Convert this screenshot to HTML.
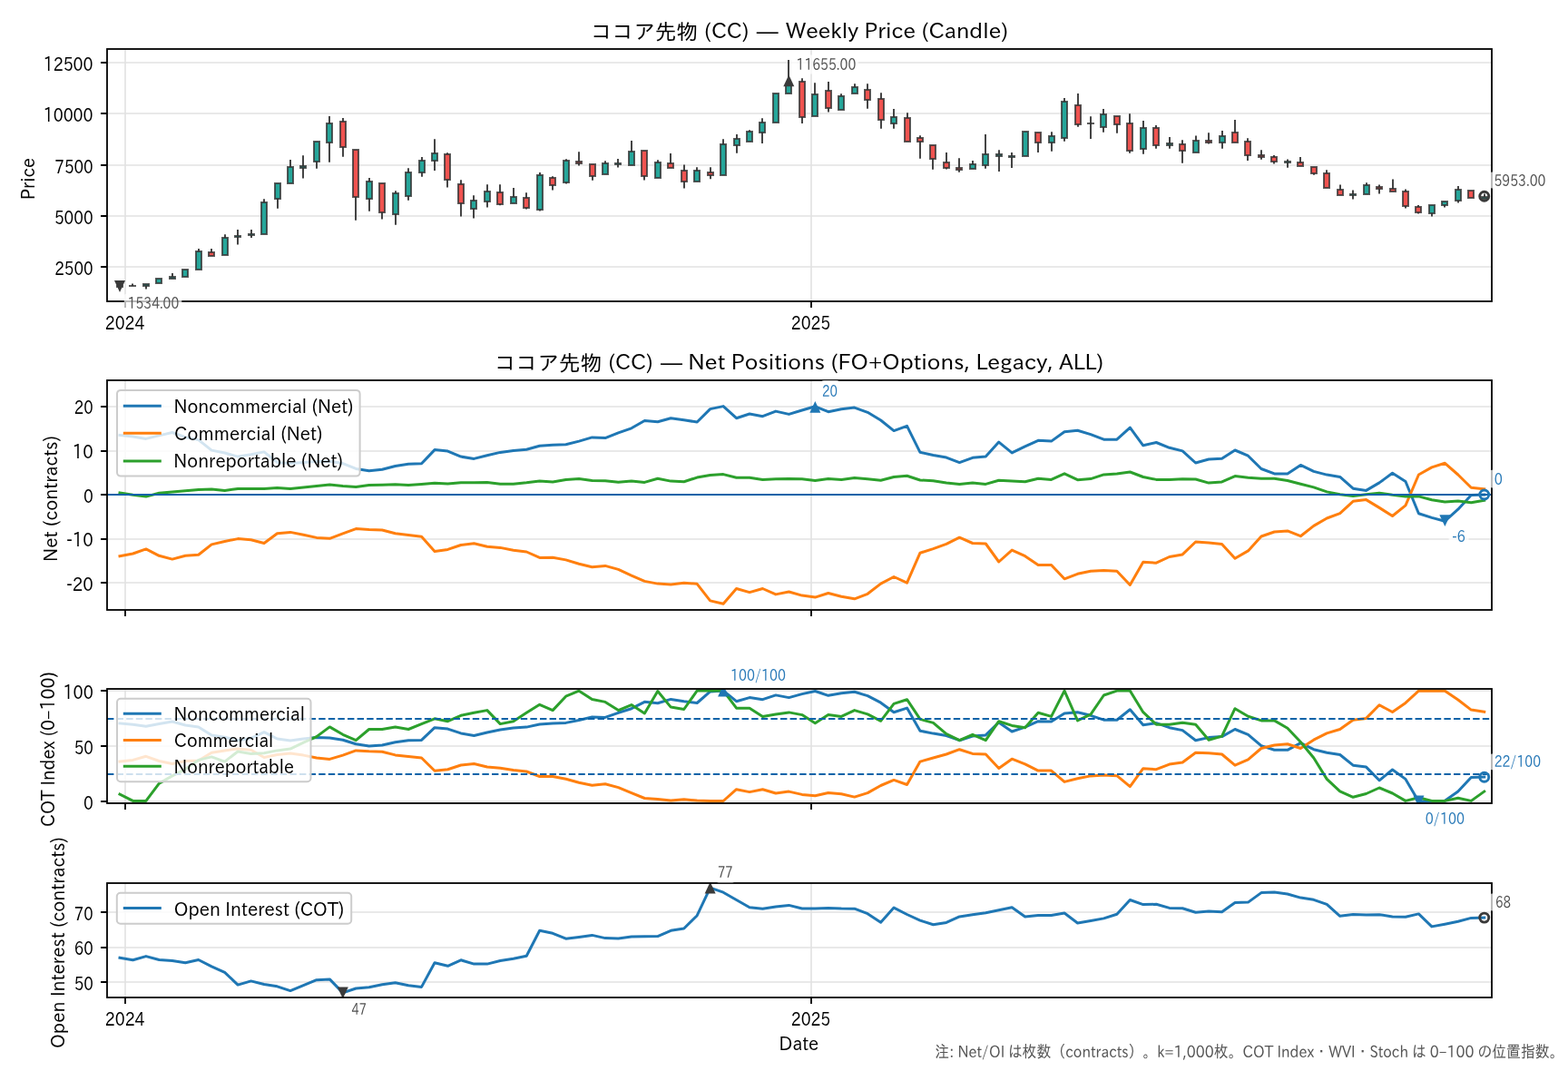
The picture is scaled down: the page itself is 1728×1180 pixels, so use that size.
<!DOCTYPE html>
<html><head><meta charset="utf-8"><title>ココア先物 (CC)</title>
<style>html,body{margin:0;padding:0;background:#fff;}svg{display:block;}</style>
</head><body>
<svg width="1728" height="1180" viewBox="0 0 1728 1180" font-family="IPAPGothic, IPAGothic, 'Noto Sans CJK JP', sans-serif">
<rect width="1728" height="1180" fill="#fff"/>
<defs>
<clipPath id="c1"><rect x="118.0" y="54.0" width="1526" height="278"/></clipPath>
<clipPath id="c2"><rect x="118.0" y="419.0" width="1526" height="253"/></clipPath>
<clipPath id="c3"><rect x="118.0" y="759.0" width="1526" height="126"/></clipPath>
<clipPath id="c4"><rect x="118.0" y="973.0" width="1526" height="126"/></clipPath>
</defs>
<path d="M118.0,69H1644.0M118.0,125H1644.0M118.0,182H1644.0M118.0,238H1644.0M118.0,294H1644.0M138.0,54.0V332.0M894.0,54.0V332.0" stroke="#e2e2e2" stroke-width="1.6" fill="none"/>
<path d="M118.0,448H1644.0M118.0,497H1644.0M118.0,545H1644.0M118.0,594H1644.0M118.0,642H1644.0M138.0,419.0V672.0M894.0,419.0V672.0" stroke="#e2e2e2" stroke-width="1.6" fill="none"/>
<path d="M118.0,761H1644.0M118.0,822H1644.0M118.0,883H1644.0M138.0,759.0V885.0M894.0,759.0V885.0" stroke="#e2e2e2" stroke-width="1.6" fill="none"/>
<path d="M118.0,1005H1644.0M118.0,1044H1644.0M118.0,1082H1644.0M138.0,973.0V1099.0M894.0,973.0V1099.0" stroke="#e2e2e2" stroke-width="1.6" fill="none"/>
<rect x="129" y="315" width="6" height="1" fill="#26a69a" stroke="#333333" stroke-opacity="0.8" stroke-width="2"/>
<line x1="146" y1="312.6" x2="146" y2="315" stroke="#303030" stroke-width="1.8"/>
<rect x="143" y="315" width="6" height="0.01" fill="#26a69a" stroke="#333333" stroke-opacity="0.8" stroke-width="2"/>
<line x1="161" y1="314" x2="161" y2="318.6" stroke="#303030" stroke-width="1.8"/>
<rect x="158" y="313" width="6" height="2" fill="#26a69a" stroke="#333333" stroke-opacity="0.8" stroke-width="2"/>
<rect x="172" y="307" width="6" height="5" fill="#26a69a" stroke="#333333" stroke-opacity="0.8" stroke-width="2"/>
<line x1="190" y1="301" x2="190" y2="306" stroke="#303030" stroke-width="1.8"/>
<rect x="187" y="305" width="6" height="2" fill="#26a69a" stroke="#333333" stroke-opacity="0.8" stroke-width="2"/>
<rect x="201" y="297" width="6" height="8" fill="#26a69a" stroke="#333333" stroke-opacity="0.8" stroke-width="2"/>
<line x1="219" y1="274.1" x2="219" y2="287" stroke="#303030" stroke-width="1.8"/>
<rect x="216" y="277" width="6" height="20" fill="#26a69a" stroke="#333333" stroke-opacity="0.8" stroke-width="2"/>
<line x1="233" y1="274.1" x2="233" y2="280" stroke="#303030" stroke-width="1.8"/>
<rect x="230" y="278" width="6" height="4" fill="#ef5350" stroke="#333333" stroke-opacity="0.8" stroke-width="2"/>
<line x1="248" y1="258.2" x2="248" y2="271.5" stroke="#303030" stroke-width="1.8"/>
<rect x="245" y="262" width="6" height="19" fill="#26a69a" stroke="#333333" stroke-opacity="0.8" stroke-width="2"/>
<line x1="262" y1="253.1" x2="262" y2="269.6" stroke="#303030" stroke-width="1.8"/>
<rect x="259" y="260" width="6" height="1" fill="#26a69a" stroke="#333333" stroke-opacity="0.8" stroke-width="2"/>
<line x1="277" y1="253.1" x2="277" y2="262" stroke="#303030" stroke-width="1.8"/>
<rect x="274" y="258" width="6" height="1" fill="#26a69a" stroke="#333333" stroke-opacity="0.8" stroke-width="2"/>
<line x1="291" y1="219.2" x2="291" y2="240.5" stroke="#303030" stroke-width="1.8"/>
<rect x="288" y="223" width="6" height="35" fill="#26a69a" stroke="#333333" stroke-opacity="0.8" stroke-width="2"/>
<line x1="306" y1="210.5" x2="306" y2="229.8" stroke="#303030" stroke-width="1.8"/>
<rect x="303" y="202" width="6" height="17" fill="#26a69a" stroke="#333333" stroke-opacity="0.8" stroke-width="2"/>
<line x1="320" y1="176" x2="320" y2="193" stroke="#303030" stroke-width="1.8"/>
<rect x="317" y="184" width="6" height="18" fill="#26a69a" stroke="#333333" stroke-opacity="0.8" stroke-width="2"/>
<line x1="334" y1="171.2" x2="334" y2="196.5" stroke="#303030" stroke-width="1.8"/>
<rect x="331" y="183" width="6" height="2" fill="#26a69a" stroke="#333333" stroke-opacity="0.8" stroke-width="2"/>
<line x1="349" y1="167" x2="349" y2="185.8" stroke="#303030" stroke-width="1.8"/>
<rect x="346" y="156" width="6" height="22" fill="#26a69a" stroke="#333333" stroke-opacity="0.8" stroke-width="2"/>
<line x1="363" y1="128.1" x2="363" y2="178.7" stroke="#303030" stroke-width="1.8"/>
<rect x="360" y="136" width="6" height="21" fill="#26a69a" stroke="#333333" stroke-opacity="0.8" stroke-width="2"/>
<line x1="378" y1="130.1" x2="378" y2="172.8" stroke="#303030" stroke-width="1.8"/>
<rect x="375" y="134" width="6" height="28" fill="#ef5350" stroke="#333333" stroke-opacity="0.8" stroke-width="2"/>
<line x1="392" y1="191" x2="392" y2="242.8" stroke="#303030" stroke-width="1.8"/>
<rect x="389" y="165" width="6" height="52" fill="#ef5350" stroke="#333333" stroke-opacity="0.8" stroke-width="2"/>
<line x1="407" y1="195.9" x2="407" y2="232.7" stroke="#303030" stroke-width="1.8"/>
<rect x="404" y="200" width="6" height="19" fill="#26a69a" stroke="#333333" stroke-opacity="0.8" stroke-width="2"/>
<line x1="421" y1="218" x2="421" y2="241.6" stroke="#303030" stroke-width="1.8"/>
<rect x="418" y="202" width="6" height="32" fill="#ef5350" stroke="#333333" stroke-opacity="0.8" stroke-width="2"/>
<line x1="436" y1="210.2" x2="436" y2="247.8" stroke="#303030" stroke-width="1.8"/>
<rect x="433" y="213" width="6" height="23" fill="#26a69a" stroke="#333333" stroke-opacity="0.8" stroke-width="2"/>
<line x1="450" y1="185.2" x2="450" y2="220.8" stroke="#303030" stroke-width="1.8"/>
<rect x="447" y="190" width="6" height="26" fill="#26a69a" stroke="#333333" stroke-opacity="0.8" stroke-width="2"/>
<line x1="465" y1="173.1" x2="465" y2="194.7" stroke="#303030" stroke-width="1.8"/>
<rect x="462" y="177" width="6" height="13" fill="#26a69a" stroke="#333333" stroke-opacity="0.8" stroke-width="2"/>
<line x1="479" y1="153.2" x2="479" y2="188" stroke="#303030" stroke-width="1.8"/>
<rect x="476" y="169" width="6" height="8" fill="#26a69a" stroke="#333333" stroke-opacity="0.8" stroke-width="2"/>
<line x1="493" y1="168.3" x2="493" y2="206.6" stroke="#303030" stroke-width="1.8"/>
<rect x="490" y="170" width="6" height="28" fill="#ef5350" stroke="#333333" stroke-opacity="0.8" stroke-width="2"/>
<line x1="508" y1="198.3" x2="508" y2="238.6" stroke="#303030" stroke-width="1.8"/>
<rect x="505" y="203" width="6" height="21" fill="#ef5350" stroke="#333333" stroke-opacity="0.8" stroke-width="2"/>
<line x1="522" y1="215.2" x2="522" y2="240.5" stroke="#303030" stroke-width="1.8"/>
<rect x="519" y="221" width="6" height="9" fill="#26a69a" stroke="#333333" stroke-opacity="0.8" stroke-width="2"/>
<line x1="537" y1="203.3" x2="537" y2="228.5" stroke="#303030" stroke-width="1.8"/>
<rect x="534" y="211" width="6" height="11" fill="#26a69a" stroke="#333333" stroke-opacity="0.8" stroke-width="2"/>
<line x1="551" y1="203.3" x2="551" y2="226.2" stroke="#303030" stroke-width="1.8"/>
<rect x="548" y="212" width="6" height="13" fill="#ef5350" stroke="#333333" stroke-opacity="0.8" stroke-width="2"/>
<line x1="566" y1="207.1" x2="566" y2="220.5" stroke="#303030" stroke-width="1.8"/>
<rect x="563" y="217" width="6" height="7" fill="#26a69a" stroke="#333333" stroke-opacity="0.8" stroke-width="2"/>
<line x1="580" y1="212.3" x2="580" y2="230.6" stroke="#303030" stroke-width="1.8"/>
<rect x="577" y="218" width="6" height="11" fill="#ef5350" stroke="#333333" stroke-opacity="0.8" stroke-width="2"/>
<line x1="595" y1="190.1" x2="595" y2="232.6" stroke="#303030" stroke-width="1.8"/>
<rect x="592" y="193" width="6" height="38" fill="#26a69a" stroke="#333333" stroke-opacity="0.8" stroke-width="2"/>
<line x1="609" y1="194.2" x2="609" y2="209.4" stroke="#303030" stroke-width="1.8"/>
<rect x="606" y="196" width="6" height="8" fill="#ef5350" stroke="#333333" stroke-opacity="0.8" stroke-width="2"/>
<line x1="624" y1="175.3" x2="624" y2="202.5" stroke="#303030" stroke-width="1.8"/>
<rect x="621" y="177" width="6" height="24" fill="#26a69a" stroke="#333333" stroke-opacity="0.8" stroke-width="2"/>
<line x1="638" y1="167.2" x2="638" y2="182.6" stroke="#303030" stroke-width="1.8"/>
<rect x="635" y="178" width="6" height="2" fill="#ef5350" stroke="#333333" stroke-opacity="0.8" stroke-width="2"/>
<line x1="653" y1="187.5" x2="653" y2="198.7" stroke="#303030" stroke-width="1.8"/>
<rect x="650" y="181" width="6" height="13" fill="#ef5350" stroke="#333333" stroke-opacity="0.8" stroke-width="2"/>
<line x1="667" y1="177.3" x2="667" y2="186" stroke="#303030" stroke-width="1.8"/>
<rect x="664" y="180" width="6" height="12" fill="#26a69a" stroke="#333333" stroke-opacity="0.8" stroke-width="2"/>
<line x1="681" y1="175.1" x2="681" y2="184.6" stroke="#303030" stroke-width="1.8"/>
<rect x="678" y="180" width="6" height="1" fill="#26a69a" stroke="#333333" stroke-opacity="0.8" stroke-width="2"/>
<line x1="696" y1="155" x2="696" y2="174.5" stroke="#303030" stroke-width="1.8"/>
<rect x="693" y="167" width="6" height="15" fill="#26a69a" stroke="#333333" stroke-opacity="0.8" stroke-width="2"/>
<line x1="710" y1="180" x2="710" y2="198.6" stroke="#303030" stroke-width="1.8"/>
<rect x="707" y="166" width="6" height="28" fill="#ef5350" stroke="#333333" stroke-opacity="0.8" stroke-width="2"/>
<line x1="725" y1="176.3" x2="725" y2="187.5" stroke="#303030" stroke-width="1.8"/>
<rect x="722" y="179" width="6" height="17" fill="#26a69a" stroke="#333333" stroke-opacity="0.8" stroke-width="2"/>
<line x1="739" y1="169.1" x2="739" y2="182.5" stroke="#303030" stroke-width="1.8"/>
<rect x="736" y="180" width="6" height="5" fill="#ef5350" stroke="#333333" stroke-opacity="0.8" stroke-width="2"/>
<line x1="754" y1="181.4" x2="754" y2="207.5" stroke="#303030" stroke-width="1.8"/>
<rect x="751" y="188" width="6" height="12" fill="#ef5350" stroke="#333333" stroke-opacity="0.8" stroke-width="2"/>
<line x1="768" y1="184.3" x2="768" y2="194" stroke="#303030" stroke-width="1.8"/>
<rect x="765" y="188" width="6" height="12" fill="#26a69a" stroke="#333333" stroke-opacity="0.8" stroke-width="2"/>
<line x1="783" y1="184.3" x2="783" y2="197.3" stroke="#303030" stroke-width="1.8"/>
<rect x="780" y="190" width="6" height="3" fill="#ef5350" stroke="#333333" stroke-opacity="0.8" stroke-width="2"/>
<line x1="797" y1="153.2" x2="797" y2="176" stroke="#303030" stroke-width="1.8"/>
<rect x="794" y="159" width="6" height="34" fill="#26a69a" stroke="#333333" stroke-opacity="0.8" stroke-width="2"/>
<line x1="812" y1="148.1" x2="812" y2="168.7" stroke="#303030" stroke-width="1.8"/>
<rect x="809" y="153" width="6" height="7" fill="#26a69a" stroke="#333333" stroke-opacity="0.8" stroke-width="2"/>
<line x1="826" y1="143.3" x2="826" y2="150.5" stroke="#303030" stroke-width="1.8"/>
<rect x="823" y="145" width="6" height="11" fill="#26a69a" stroke="#333333" stroke-opacity="0.8" stroke-width="2"/>
<line x1="840" y1="130.3" x2="840" y2="157.9" stroke="#303030" stroke-width="1.8"/>
<rect x="837" y="135" width="6" height="11" fill="#26a69a" stroke="#333333" stroke-opacity="0.8" stroke-width="2"/>
<rect x="852" y="103" width="6" height="32" fill="#26a69a" stroke="#333333" stroke-opacity="0.8" stroke-width="2"/>
<line x1="869" y1="66.1" x2="869" y2="98.5" stroke="#303030" stroke-width="1.8"/>
<rect x="866" y="94" width="6" height="9" fill="#26a69a" stroke="#333333" stroke-opacity="0.8" stroke-width="2"/>
<line x1="884" y1="86.3" x2="884" y2="135.9" stroke="#303030" stroke-width="1.8"/>
<rect x="881" y="90" width="6" height="39" fill="#ef5350" stroke="#333333" stroke-opacity="0.8" stroke-width="2"/>
<line x1="898" y1="91.2" x2="898" y2="116" stroke="#303030" stroke-width="1.8"/>
<rect x="895" y="104" width="6" height="24" fill="#26a69a" stroke="#333333" stroke-opacity="0.8" stroke-width="2"/>
<line x1="913" y1="90.1" x2="913" y2="123.6" stroke="#303030" stroke-width="1.8"/>
<rect x="910" y="100" width="6" height="19" fill="#ef5350" stroke="#333333" stroke-opacity="0.8" stroke-width="2"/>
<line x1="927" y1="103.2" x2="927" y2="113.5" stroke="#303030" stroke-width="1.8"/>
<rect x="924" y="106" width="6" height="15" fill="#26a69a" stroke="#333333" stroke-opacity="0.8" stroke-width="2"/>
<line x1="942" y1="92.2" x2="942" y2="99.5" stroke="#303030" stroke-width="1.8"/>
<rect x="939" y="96" width="6" height="7" fill="#26a69a" stroke="#333333" stroke-opacity="0.8" stroke-width="2"/>
<line x1="956" y1="92.2" x2="956" y2="119.8" stroke="#303030" stroke-width="1.8"/>
<rect x="953" y="99" width="6" height="11" fill="#ef5350" stroke="#333333" stroke-opacity="0.8" stroke-width="2"/>
<line x1="971" y1="102.2" x2="971" y2="141.8" stroke="#303030" stroke-width="1.8"/>
<rect x="968" y="109" width="6" height="23" fill="#ef5350" stroke="#333333" stroke-opacity="0.8" stroke-width="2"/>
<line x1="985" y1="120.1" x2="985" y2="141.8" stroke="#303030" stroke-width="1.8"/>
<rect x="982" y="129" width="6" height="7" fill="#26a69a" stroke="#333333" stroke-opacity="0.8" stroke-width="2"/>
<line x1="1000" y1="124.2" x2="1000" y2="143" stroke="#303030" stroke-width="1.8"/>
<rect x="997" y="130" width="6" height="26" fill="#ef5350" stroke="#333333" stroke-opacity="0.8" stroke-width="2"/>
<line x1="1014" y1="149.3" x2="1014" y2="174.8" stroke="#303030" stroke-width="1.8"/>
<rect x="1011" y="152" width="6" height="4" fill="#ef5350" stroke="#333333" stroke-opacity="0.8" stroke-width="2"/>
<line x1="1028" y1="167.5" x2="1028" y2="186.8" stroke="#303030" stroke-width="1.8"/>
<rect x="1025" y="160" width="6" height="15" fill="#ef5350" stroke="#333333" stroke-opacity="0.8" stroke-width="2"/>
<line x1="1043" y1="168.1" x2="1043" y2="186.5" stroke="#303030" stroke-width="1.8"/>
<rect x="1040" y="179" width="6" height="6" fill="#ef5350" stroke="#333333" stroke-opacity="0.8" stroke-width="2"/>
<line x1="1057" y1="174.2" x2="1057" y2="189.7" stroke="#303030" stroke-width="1.8"/>
<rect x="1054" y="185" width="6" height="2" fill="#ef5350" stroke="#333333" stroke-opacity="0.8" stroke-width="2"/>
<line x1="1072" y1="177" x2="1072" y2="183.5" stroke="#303030" stroke-width="1.8"/>
<rect x="1069" y="181" width="6" height="5" fill="#26a69a" stroke="#333333" stroke-opacity="0.8" stroke-width="2"/>
<line x1="1086" y1="148.1" x2="1086" y2="185.8" stroke="#303030" stroke-width="1.8"/>
<rect x="1083" y="170" width="6" height="12" fill="#26a69a" stroke="#333333" stroke-opacity="0.8" stroke-width="2"/>
<line x1="1101" y1="165.2" x2="1101" y2="189" stroke="#303030" stroke-width="1.8"/>
<rect x="1098" y="170" width="6" height="2" fill="#26a69a" stroke="#333333" stroke-opacity="0.8" stroke-width="2"/>
<line x1="1115" y1="168.1" x2="1115" y2="184.9" stroke="#303030" stroke-width="1.8"/>
<rect x="1112" y="172" width="6" height="1" fill="#26a69a" stroke="#333333" stroke-opacity="0.8" stroke-width="2"/>
<rect x="1127" y="145" width="6" height="27" fill="#26a69a" stroke="#333333" stroke-opacity="0.8" stroke-width="2"/>
<line x1="1144" y1="151.5" x2="1144" y2="167.9" stroke="#303030" stroke-width="1.8"/>
<rect x="1141" y="146" width="6" height="11" fill="#ef5350" stroke="#333333" stroke-opacity="0.8" stroke-width="2"/>
<line x1="1159" y1="145.2" x2="1159" y2="166.7" stroke="#303030" stroke-width="1.8"/>
<rect x="1156" y="150" width="6" height="7" fill="#26a69a" stroke="#333333" stroke-opacity="0.8" stroke-width="2"/>
<line x1="1173" y1="107.9" x2="1173" y2="155.7" stroke="#303030" stroke-width="1.8"/>
<rect x="1170" y="112" width="6" height="40" fill="#26a69a" stroke="#333333" stroke-opacity="0.8" stroke-width="2"/>
<line x1="1188" y1="103.1" x2="1188" y2="139.8" stroke="#303030" stroke-width="1.8"/>
<rect x="1185" y="116" width="6" height="21" fill="#ef5350" stroke="#333333" stroke-opacity="0.8" stroke-width="2"/>
<line x1="1202" y1="128.2" x2="1202" y2="153.1" stroke="#303030" stroke-width="1.8"/>
<rect x="1199" y="136" width="6" height="0.01" fill="#26a69a" stroke="#333333" stroke-opacity="0.8" stroke-width="2"/>
<line x1="1216" y1="120.1" x2="1216" y2="145.8" stroke="#303030" stroke-width="1.8"/>
<rect x="1213" y="126" width="6" height="14" fill="#26a69a" stroke="#333333" stroke-opacity="0.8" stroke-width="2"/>
<line x1="1231" y1="132.5" x2="1231" y2="146.7" stroke="#303030" stroke-width="1.8"/>
<rect x="1228" y="128" width="6" height="9" fill="#ef5350" stroke="#333333" stroke-opacity="0.8" stroke-width="2"/>
<line x1="1245" y1="125.3" x2="1245" y2="168.7" stroke="#303030" stroke-width="1.8"/>
<rect x="1242" y="136" width="6" height="30" fill="#ef5350" stroke="#333333" stroke-opacity="0.8" stroke-width="2"/>
<line x1="1260" y1="133.1" x2="1260" y2="169.7" stroke="#303030" stroke-width="1.8"/>
<rect x="1257" y="141" width="6" height="23" fill="#26a69a" stroke="#333333" stroke-opacity="0.8" stroke-width="2"/>
<line x1="1274" y1="138.1" x2="1274" y2="163.8" stroke="#303030" stroke-width="1.8"/>
<rect x="1271" y="141" width="6" height="19" fill="#ef5350" stroke="#333333" stroke-opacity="0.8" stroke-width="2"/>
<line x1="1289" y1="151.1" x2="1289" y2="163.8" stroke="#303030" stroke-width="1.8"/>
<rect x="1286" y="158" width="6" height="2" fill="#26a69a" stroke="#333333" stroke-opacity="0.8" stroke-width="2"/>
<line x1="1303" y1="154.3" x2="1303" y2="179.7" stroke="#303030" stroke-width="1.8"/>
<rect x="1300" y="159" width="6" height="7" fill="#ef5350" stroke="#333333" stroke-opacity="0.8" stroke-width="2"/>
<line x1="1318" y1="149.4" x2="1318" y2="161.5" stroke="#303030" stroke-width="1.8"/>
<rect x="1315" y="155" width="6" height="13" fill="#26a69a" stroke="#333333" stroke-opacity="0.8" stroke-width="2"/>
<line x1="1332" y1="146.2" x2="1332" y2="158.6" stroke="#303030" stroke-width="1.8"/>
<rect x="1329" y="155" width="6" height="2" fill="#ef5350" stroke="#333333" stroke-opacity="0.8" stroke-width="2"/>
<line x1="1347" y1="144.1" x2="1347" y2="163.8" stroke="#303030" stroke-width="1.8"/>
<rect x="1344" y="150" width="6" height="7" fill="#26a69a" stroke="#333333" stroke-opacity="0.8" stroke-width="2"/>
<line x1="1361" y1="132" x2="1361" y2="151.5" stroke="#303030" stroke-width="1.8"/>
<rect x="1358" y="146" width="6" height="11" fill="#ef5350" stroke="#333333" stroke-opacity="0.8" stroke-width="2"/>
<line x1="1375" y1="152.2" x2="1375" y2="176.9" stroke="#303030" stroke-width="1.8"/>
<rect x="1372" y="156" width="6" height="15" fill="#ef5350" stroke="#333333" stroke-opacity="0.8" stroke-width="2"/>
<line x1="1390" y1="165.2" x2="1390" y2="175.7" stroke="#303030" stroke-width="1.8"/>
<rect x="1387" y="171" width="6" height="2" fill="#ef5350" stroke="#333333" stroke-opacity="0.8" stroke-width="2"/>
<line x1="1404" y1="171.1" x2="1404" y2="180.6" stroke="#303030" stroke-width="1.8"/>
<rect x="1401" y="173" width="6" height="5" fill="#ef5350" stroke="#333333" stroke-opacity="0.8" stroke-width="2"/>
<line x1="1419" y1="175.4" x2="1419" y2="184.7" stroke="#303030" stroke-width="1.8"/>
<rect x="1416" y="178" width="6" height="1" fill="#26a69a" stroke="#333333" stroke-opacity="0.8" stroke-width="2"/>
<line x1="1433" y1="173.1" x2="1433" y2="181" stroke="#303030" stroke-width="1.8"/>
<rect x="1430" y="179" width="6" height="4" fill="#ef5350" stroke="#333333" stroke-opacity="0.8" stroke-width="2"/>
<line x1="1448" y1="187.5" x2="1448" y2="192.8" stroke="#303030" stroke-width="1.8"/>
<rect x="1445" y="184" width="6" height="7" fill="#ef5350" stroke="#333333" stroke-opacity="0.8" stroke-width="2"/>
<line x1="1462" y1="187.2" x2="1462" y2="199" stroke="#303030" stroke-width="1.8"/>
<rect x="1459" y="191" width="6" height="16" fill="#ef5350" stroke="#333333" stroke-opacity="0.8" stroke-width="2"/>
<line x1="1477" y1="203.4" x2="1477" y2="212" stroke="#303030" stroke-width="1.8"/>
<rect x="1474" y="209" width="6" height="6" fill="#ef5350" stroke="#333333" stroke-opacity="0.8" stroke-width="2"/>
<line x1="1491" y1="209.5" x2="1491" y2="219.6" stroke="#303030" stroke-width="1.8"/>
<rect x="1488" y="214" width="6" height="1" fill="#26a69a" stroke="#333333" stroke-opacity="0.8" stroke-width="2"/>
<line x1="1506" y1="201.2" x2="1506" y2="209" stroke="#303030" stroke-width="1.8"/>
<rect x="1503" y="204" width="6" height="10" fill="#26a69a" stroke="#333333" stroke-opacity="0.8" stroke-width="2"/>
<line x1="1520" y1="203.4" x2="1520" y2="213.5" stroke="#303030" stroke-width="1.8"/>
<rect x="1517" y="206" width="6" height="2" fill="#ef5350" stroke="#333333" stroke-opacity="0.8" stroke-width="2"/>
<line x1="1535" y1="197.4" x2="1535" y2="209.5" stroke="#303030" stroke-width="1.8"/>
<rect x="1532" y="208" width="6" height="3" fill="#ef5350" stroke="#333333" stroke-opacity="0.8" stroke-width="2"/>
<line x1="1549" y1="208.4" x2="1549" y2="229.5" stroke="#303030" stroke-width="1.8"/>
<rect x="1546" y="211" width="6" height="16" fill="#ef5350" stroke="#333333" stroke-opacity="0.8" stroke-width="2"/>
<line x1="1563" y1="226" x2="1563" y2="235.6" stroke="#303030" stroke-width="1.8"/>
<rect x="1560" y="228" width="6" height="6" fill="#ef5350" stroke="#333333" stroke-opacity="0.8" stroke-width="2"/>
<line x1="1578" y1="230.5" x2="1578" y2="238.5" stroke="#303030" stroke-width="1.8"/>
<rect x="1575" y="226" width="6" height="9" fill="#26a69a" stroke="#333333" stroke-opacity="0.8" stroke-width="2"/>
<line x1="1592" y1="224" x2="1592" y2="228.6" stroke="#303030" stroke-width="1.8"/>
<rect x="1589" y="222" width="6" height="4" fill="#26a69a" stroke="#333333" stroke-opacity="0.8" stroke-width="2"/>
<line x1="1607" y1="205" x2="1607" y2="223.5" stroke="#303030" stroke-width="1.8"/>
<rect x="1604" y="209" width="6" height="12" fill="#26a69a" stroke="#333333" stroke-opacity="0.8" stroke-width="2"/>
<rect x="1618" y="210" width="6" height="8" fill="#ef5350" stroke="#333333" stroke-opacity="0.8" stroke-width="2"/>
<line x1="1636" y1="213.6" x2="1636" y2="218" stroke="#303030" stroke-width="1.8"/>
<rect x="1633" y="217" width="6" height="2" fill="#26a69a" stroke="#333333" stroke-opacity="0.8" stroke-width="2"/>
<polygon points="869.3,82.4 863.3,95.2 875.3,95.2" fill="#3a3a3a"/>
<polygon points="132,321.9 126,309.1 138,309.1" fill="#3a3a3a"/>
<circle cx="1635.74" cy="216.2" r="5.0" fill="none" stroke="#3a3a3a" stroke-width="2.9"/>
<polyline points="132,479.4 146.46,481.1 160.92,483.4 175.38,479.9 189.84,476.5 204.3,481.7 218.75,484.6 233.21,496.1 247.67,499 262.13,503.1 276.59,500.8 291.05,497.9 305.51,509.4 319.97,510.6 334.43,509.4 348.88,508.5 363.34,508.3 377.8,510.6 392.26,516.4 406.72,518.7 421.18,517.3 435.64,513.5 450.1,511.2 464.56,510.8 479.02,495.6 493.47,497.1 507.93,503.1 522.39,505.4 536.85,501.7 551.31,498.4 565.77,496.4 580.23,495.2 594.69,491.3 609.15,490.3 623.61,489.8 638.07,486.1 652.52,481.9 666.98,482.6 681.44,476.8 695.9,471.8 710.36,463.5 724.82,464.7 739.28,460.7 753.74,462.8 768.2,465 782.65,450.6 797.11,447.6 811.57,460.7 826.03,456 840.49,458.7 854.95,453.1 869.41,456.4 883.87,452 898.33,447.8 912.79,453.7 927.25,450.8 941.7,449.1 956.16,454.3 970.62,463 985.08,474.6 999.54,469.4 1014,498.3 1028.46,501.5 1042.92,504.1 1057.38,509.6 1071.84,504.3 1086.29,503.1 1100.75,487.1 1115.21,498.9 1129.67,491.9 1144.13,485.3 1158.59,486.1 1173.05,475.7 1187.51,474.3 1201.97,478.6 1216.42,484.2 1230.88,484.2 1245.34,471.1 1259.8,490.8 1274.26,487.5 1288.72,493.3 1303.18,496.9 1317.64,510 1332.1,506 1346.56,505.2 1361.01,496 1375.47,502.2 1389.93,516.5 1404.39,521.9 1418.85,521.9 1433.31,512.4 1447.77,519.4 1462.23,523.1 1476.69,525.4 1491.15,538.2 1505.61,540.4 1520.06,531.9 1534.52,521.3 1548.98,530.5 1563.44,565.8 1577.9,570.4 1592.36,574.2 1606.82,561.2 1621.28,545.6 1635.74,545" fill="none" stroke="#1f77b4" stroke-width="3" stroke-linejoin="round" stroke-linecap="square" clip-path="url(#c2)"/>
<polyline points="132,612.7 146.46,610 160.92,604.9 175.38,612.3 189.84,616.1 204.3,612.3 218.75,611.3 233.21,599.9 247.67,596.5 262.13,593.6 276.59,594.7 291.05,598.5 305.51,587.8 319.97,586.4 334.43,589.2 348.88,592.4 363.34,593.3 377.8,587.8 392.26,582.6 406.72,583.5 421.18,584 435.64,587.8 450.1,589.5 464.56,591.3 479.02,607.5 493.47,605.4 507.93,600.5 522.39,598.8 536.85,602.2 551.31,603.4 565.77,606.3 580.23,608 594.69,614.4 609.15,614.2 623.61,616.9 638.07,621.3 652.52,624.8 666.98,623.4 681.44,627.4 695.9,634.1 710.36,640.4 724.82,643.1 739.28,644.1 753.74,642.2 768.2,643.3 782.65,661.9 797.11,665.3 811.57,648.5 826.03,652.6 840.49,648.5 854.95,654.9 869.41,652 883.87,656.1 898.33,658.1 912.79,653.5 927.25,657.2 941.7,659.8 956.16,654.3 970.62,643.1 985.08,635.5 999.54,642.2 1014,609.2 1028.46,604.6 1042.92,599.4 1057.38,592.2 1071.84,598.5 1086.29,599 1100.75,619 1115.21,606.1 1129.67,612.7 1144.13,622.5 1158.59,622.5 1173.05,637.8 1187.51,632.3 1201.97,629.2 1216.42,628.5 1230.88,629.2 1245.34,644.5 1259.8,619.3 1274.26,620.2 1288.72,613.5 1303.18,610.9 1317.64,597 1332.1,598 1346.56,599.4 1361.01,615.3 1375.47,606.9 1389.93,591 1404.39,586 1418.85,584.9 1433.31,590.7 1447.77,579.4 1462.23,571 1476.69,565.6 1491.15,552.3 1505.61,550.6 1520.06,559.4 1534.52,568.5 1548.98,556.9 1563.44,523 1577.9,514.9 1592.36,510.3 1606.82,523 1621.28,537.2 1635.74,538.8" fill="none" stroke="#ff7f0e" stroke-width="3" stroke-linejoin="round" stroke-linecap="square" clip-path="url(#c2)"/>
<polyline points="132,543 146.46,545.3 160.92,547.1 175.38,543.2 189.84,541.9 204.3,540.7 218.75,539.5 233.21,539 247.67,540.5 262.13,538.4 276.59,538.6 291.05,538.4 305.51,537.6 319.97,538.4 334.43,537 348.88,535.5 363.34,534 377.8,535.5 392.26,536.6 406.72,534.6 421.18,534.3 435.64,533.8 450.1,534.6 464.56,533.5 479.02,532.2 493.47,532.9 507.93,531.7 522.39,531.8 536.85,531.4 551.31,533.2 565.77,533.2 580.23,531.8 594.69,530 609.15,531.1 623.61,528.5 638.07,527.6 652.52,529.4 666.98,529.7 681.44,531.2 695.9,530 710.36,531.4 724.82,527.2 739.28,530.1 753.74,530.7 768.2,526.1 782.65,523.5 797.11,522.6 811.57,526.3 826.03,526.3 840.49,528.4 854.95,527.8 869.41,527.5 883.87,527.8 898.33,529.5 912.79,527.6 927.25,528.4 941.7,526.6 956.16,527.8 970.62,529.2 985.08,525.5 999.54,524.3 1014,529 1028.46,529.8 1042.92,532.1 1057.38,533.4 1071.84,532.1 1086.29,533.4 1100.75,529.3 1115.21,530.1 1129.67,530.7 1144.13,527.2 1158.59,528.4 1173.05,521.8 1187.51,528.7 1201.97,527.6 1216.42,522.9 1230.88,522 1245.34,520 1259.8,525.5 1274.26,528.4 1288.72,528.4 1303.18,527.8 1317.64,528 1332.1,532.1 1346.56,530.9 1361.01,524.6 1375.47,526.3 1389.93,527.2 1404.39,527.2 1418.85,529.5 1433.31,533.2 1447.77,536.9 1462.23,541.9 1476.69,544.8 1491.15,546.6 1505.61,544.8 1520.06,543.2 1534.52,545.3 1548.98,546.9 1563.44,546.9 1577.9,550.8 1592.36,553.1 1606.82,551.9 1621.28,553.7 1635.74,551.3" fill="none" stroke="#2ca02c" stroke-width="3" stroke-linejoin="round" stroke-linecap="square" clip-path="url(#c2)"/>
<line x1="118" y1="545" x2="1644" y2="545" stroke="#0b63a8" stroke-width="1.8"/>
<polygon points="898.33,441.9 892.33,454.7 904.33,454.7" fill="#1f77b4"/>
<polygon points="1592.36,580 1586.36,567.2 1598.36,567.2" fill="#1f77b4"/>
<circle cx="1635.74" cy="545" r="5.0" fill="none" stroke="#1f77b4" stroke-width="2.9"/>
<polyline points="132,797 146.46,798.2 160.92,800.2 175.38,797.6 189.84,795 204.3,799 218.75,800.9 233.21,809.9 247.67,812.2 262.13,815.7 276.59,813.4 291.05,806.7 305.51,814 319.97,816.1 334.43,814 348.88,812.6 363.34,813.1 377.8,815.2 392.26,819.8 406.72,821.9 421.18,821 435.64,817.8 450.1,815.7 464.56,815.4 479.02,801.7 493.47,803.1 507.93,807.9 522.39,810.5 536.85,807 551.31,804 565.77,802.1 580.23,801.1 594.69,798 609.15,797 623.61,796.4 638.07,793.5 652.52,790 666.98,790.4 681.44,785.3 695.9,780.7 710.36,773.3 724.82,774.7 739.28,770.4 753.74,772.7 768.2,774.5 782.65,761.9 797.11,761 811.57,772.7 826.03,768.6 840.49,770.7 854.95,765.9 869.41,768.6 883.87,764.6 898.33,761.5 912.79,766.3 927.25,763.7 941.7,762.3 956.16,766.6 970.62,774.2 985.08,784.7 999.54,780.1 1014,805.2 1028.46,808.1 1042.92,810.5 1057.38,815.7 1071.84,811.1 1086.29,809.9 1100.75,795.9 1115.21,806 1129.67,801.1 1144.13,794.7 1158.59,795 1173.05,785.9 1187.51,784.7 1201.97,788.3 1216.42,793.2 1230.88,793.2 1245.34,781.8 1259.8,798.8 1274.26,796.7 1288.72,801.7 1303.18,804.6 1317.64,815.7 1332.1,812.6 1346.56,811.6 1361.01,803.5 1375.47,809.3 1389.93,821.6 1404.39,826.3 1418.85,826.3 1433.31,818.7 1447.77,825.7 1462.23,829.2 1476.69,831.5 1491.15,843.2 1505.61,845.1 1520.06,859.8 1534.52,848 1548.98,858.4 1563.44,882.9 1577.9,882.4 1592.36,882.2 1606.82,872 1621.28,856.4 1635.74,856.1" fill="none" stroke="#1f77b4" stroke-width="3" stroke-linejoin="round" stroke-linecap="square" clip-path="url(#c3)"/>
<polyline points="132,839.1 146.46,837.4 160.92,833.3 175.38,838.5 189.84,841.5 204.3,838.5 218.75,838 233.21,829.2 247.67,826.9 262.13,825.1 276.59,826.3 291.05,834.5 305.51,831.5 319.97,830.1 334.43,832.1 348.88,835 363.34,836.4 377.8,832.1 392.26,826.9 406.72,827.8 421.18,828.3 435.64,831.9 450.1,833.5 464.56,835 479.02,849.3 493.47,847.7 507.93,843 522.39,841.5 536.85,845 551.31,846.2 565.77,848.5 580.23,850 594.69,855.5 609.15,855.5 623.61,858.2 638.07,862.2 652.52,865.2 666.98,863.7 681.44,867.6 695.9,873.6 710.36,879.5 724.82,880.5 739.28,882.1 753.74,880.8 768.2,882.1 782.65,882.5 797.11,882.5 811.57,869.7 826.03,872.6 840.49,869.7 854.95,874 869.41,872.1 883.87,875.4 898.33,876.7 912.79,873.5 927.25,874.8 941.7,878.1 956.16,873.6 970.62,865.5 985.08,859.4 999.54,864.5 1014,839.1 1028.46,835 1042.92,831 1057.38,825.7 1071.84,830.4 1086.29,831 1100.75,846.5 1115.21,836.2 1129.67,841.8 1144.13,849.1 1158.59,849.1 1173.05,861.4 1187.51,857.8 1201.97,854.9 1216.42,854.1 1230.88,854.7 1245.34,866.6 1259.8,846.7 1274.26,847.7 1288.72,842.1 1303.18,840 1317.64,829.2 1332.1,829.8 1346.56,831 1361.01,843.2 1375.47,836.8 1389.93,824.5 1404.39,821 1418.85,819.8 1433.31,824.5 1447.77,815.2 1462.23,807.9 1476.69,803.5 1491.15,793.2 1505.61,791.4 1520.06,776.8 1534.52,784.5 1548.98,774.4 1563.44,761.2 1577.9,761.2 1592.36,761.2 1606.82,771 1621.28,782.1 1635.74,784.3" fill="none" stroke="#ff7f0e" stroke-width="3" stroke-linejoin="round" stroke-linecap="square" clip-path="url(#c3)"/>
<polyline points="132,875 146.46,882.4 160.92,882.4 175.38,863.1 189.84,854.9 204.3,847.3 218.75,837.4 233.21,833.9 247.67,839.1 262.13,828 276.59,830.4 291.05,829.8 305.51,826.9 319.97,825.1 334.43,818.1 348.88,811.6 363.34,800.9 377.8,809.3 392.26,815.7 406.72,803.5 421.18,803.5 435.64,800.9 450.1,803.5 464.56,797.6 479.02,791.8 493.47,794.7 507.93,788.3 522.39,785.3 536.85,782.6 551.31,797.6 565.77,794.7 580.23,785.3 594.69,776.3 609.15,782.6 623.61,767.2 638.07,761.2 652.52,770.5 666.98,773.4 681.44,782.6 695.9,776.6 710.36,785.9 724.82,761.5 739.28,779.1 753.74,781.5 768.2,761 782.65,761 797.11,761 811.57,780.2 826.03,780.2 840.49,789.4 854.95,787 869.41,784.9 883.87,787.6 898.33,796.7 912.79,787.6 927.25,789.4 941.7,782.6 956.16,786.9 970.62,794.3 985.08,775.4 999.54,770.7 1014,792.4 1028.46,796.4 1042.92,808.7 1057.38,815.7 1071.84,809.3 1086.29,815.7 1100.75,794.7 1115.21,799.4 1129.67,801.7 1144.13,785.3 1158.59,789.4 1173.05,761.1 1187.51,793.9 1201.97,787.1 1216.42,766 1230.88,761.1 1245.34,761.1 1259.8,784.7 1274.26,798.2 1288.72,798.2 1303.18,796.2 1317.64,798.2 1332.1,815.2 1346.56,811.1 1361.01,780.7 1375.47,789.2 1389.93,793.9 1404.39,793.9 1418.85,802.3 1433.31,817.5 1447.77,835 1462.23,858.4 1476.69,871.9 1491.15,878.3 1505.61,874.5 1520.06,868 1534.52,874 1548.98,882.4 1563.44,878.8 1577.9,882.4 1592.36,882.4 1606.82,879.2 1621.28,882.4 1635.74,872" fill="none" stroke="#2ca02c" stroke-width="3" stroke-linejoin="round" stroke-linecap="square" clip-path="url(#c3)"/>
<line x1="118" y1="792" x2="1644" y2="792" stroke="#0b63a8" stroke-width="1.8" stroke-dasharray="7.4 3.2" clip-path="url(#c3)"/>
<line x1="118" y1="853" x2="1644" y2="853" stroke="#0b63a8" stroke-width="1.8" stroke-dasharray="7.4 3.2" clip-path="url(#c3)"/>
<polygon points="797.11,754.6 791.11,767.4 803.11,767.4" fill="#1f77b4" clip-path="url(#c3)"/>
<polygon points="1563.44,889.3 1557.44,876.5 1569.44,876.5" fill="#1f77b4" clip-path="url(#c3)"/>
<circle cx="1635.74" cy="856.2" r="5.0" fill="none" stroke="#1f77b4" stroke-width="2.9"/>
<polyline points="132,1055.2 146.46,1057.8 160.92,1053.6 175.38,1057.5 189.84,1058.4 204.3,1060.7 218.75,1057.5 233.21,1064.9 247.67,1071.4 262.13,1085.1 276.59,1080.9 291.05,1084.5 305.51,1086.8 319.97,1091.6 334.43,1085.7 348.88,1079.7 363.34,1078.9 377.8,1093.9 392.26,1089 406.72,1087.8 421.18,1084.8 435.64,1082.7 450.1,1085.7 464.56,1087.4 479.02,1060.7 493.47,1064.3 507.93,1057.8 522.39,1062.1 536.85,1062.1 551.31,1058.5 565.77,1056.2 580.23,1053.2 594.69,1025.3 609.15,1028.3 623.61,1034.2 638.07,1032.4 652.52,1030.4 666.98,1033.6 681.44,1034 695.9,1032.1 710.36,1031.8 724.82,1031.6 739.28,1025.3 753.74,1023 768.2,1008.7 782.65,978.1 797.11,983.2 811.57,991.5 826.03,999.8 840.49,1001.2 854.95,998.9 869.41,997.4 883.87,1001 898.33,1001 912.79,1000.4 927.25,1001 941.7,1001.2 956.16,1006.7 970.62,1016.2 985.08,1000.1 999.54,1007.5 1014,1014.1 1028.46,1018.8 1042.92,1016.4 1057.38,1009.9 1071.84,1007.8 1086.29,1005.8 1100.75,1002.8 1115.21,999.8 1129.67,1009.9 1144.13,1008.4 1158.59,1008.4 1173.05,1006 1187.51,1017 1201.97,1014.6 1216.42,1011.9 1230.88,1007.3 1245.34,991.5 1259.8,996.6 1274.26,996.3 1288.72,1000.4 1303.18,1000.8 1317.64,1005.2 1332.1,1004 1346.56,1004.8 1361.01,994.5 1375.47,994.1 1389.93,983.6 1404.39,983 1418.85,985 1433.31,989.1 1447.77,991.3 1462.23,996.3 1476.69,1009.3 1491.15,1007.5 1505.61,1007.9 1520.06,1007.7 1534.52,1009.9 1548.98,1010.3 1563.44,1006.9 1577.9,1020.9 1592.36,1018.2 1606.82,1015.2 1621.28,1011.4 1635.74,1011.1" fill="none" stroke="#1f77b4" stroke-width="3" stroke-linejoin="round" stroke-linecap="square" clip-path="url(#c4)"/>
<polygon points="782.65,971.7 776.65,984.5 788.65,984.5" fill="#3a3a3a" clip-path="url(#c4)"/>
<polygon points="377.8,1100.3 371.8,1087.5 383.8,1087.5" fill="#3a3a3a" clip-path="url(#c4)"/>
<circle cx="1635.74" cy="1011.1" r="5.0" fill="none" stroke="#3a3a3a" stroke-width="2.9"/>
<rect x="118.0" y="54.0" width="1526" height="278" fill="none" stroke="#000" stroke-width="1.8"/>
<path d="M111.0,69H118.0M111.0,125H118.0M111.0,182H118.0M111.0,238H118.0M111.0,294H118.0M138.0,332V339M894.0,332V339" stroke="#000" stroke-width="1.8" fill="none"/>
<rect x="118.0" y="419.0" width="1526" height="253" fill="none" stroke="#000" stroke-width="1.8"/>
<path d="M111.0,448H118.0M111.0,497H118.0M111.0,545H118.0M111.0,594H118.0M111.0,642H118.0M138.0,672V679M894.0,672V679" stroke="#000" stroke-width="1.8" fill="none"/>
<rect x="118.0" y="759.0" width="1526" height="126" fill="none" stroke="#000" stroke-width="1.8"/>
<path d="M111.0,761H118.0M111.0,822H118.0M111.0,883H118.0M138.0,885V892M894.0,885V892" stroke="#000" stroke-width="1.8" fill="none"/>
<rect x="118.0" y="973.0" width="1526" height="126" fill="none" stroke="#000" stroke-width="1.8"/>
<path d="M111.0,1005H118.0M111.0,1044H118.0M111.0,1082H118.0M138.0,1099V1106M894.0,1099V1106" stroke="#000" stroke-width="1.8" fill="none"/>
<rect x="129" y="429.9" width="267.6" height="94.7" rx="4" fill="#fff" fill-opacity="0.8" stroke="#cccccc" stroke-width="2"/>
<line x1="137.3" y1="447.3" x2="176.3" y2="447.3" stroke="#1f77b4" stroke-width="3" stroke-linecap="square"/>
<text x="191.38" y="454.8" font-size="20.8" fill="#000" textLength="198.27" lengthAdjust="spacingAndGlyphs">Noncommercial (Net)</text>
<line x1="137.3" y1="477.3" x2="176.3" y2="477.3" stroke="#ff7f0e" stroke-width="3" stroke-linecap="square"/>
<text x="192.1" y="485" font-size="20.8" fill="#000" textLength="163.45" lengthAdjust="spacingAndGlyphs">Commercial (Net)</text>
<line x1="137.3" y1="508" x2="176.3" y2="508" stroke="#2ca02c" stroke-width="3" stroke-linecap="square"/>
<text x="191.35" y="515.2" font-size="20.8" fill="#000" textLength="186.6" lengthAdjust="spacingAndGlyphs">Nonreportable (Net)</text>
<rect x="129" y="769.7" width="213.5" height="91.5" rx="4" fill="#fff" fill-opacity="0.8" stroke="#cccccc" stroke-width="2"/>
<line x1="137.3" y1="786.3" x2="176.3" y2="786.3" stroke="#1f77b4" stroke-width="3" stroke-linecap="square"/>
<text x="191.57" y="794" font-size="20.8" fill="#000" textLength="144.44" lengthAdjust="spacingAndGlyphs">Noncommercial</text>
<line x1="137.3" y1="815.4" x2="176.3" y2="815.4" stroke="#ff7f0e" stroke-width="3" stroke-linecap="square"/>
<text x="191.87" y="822.9" font-size="20.8" fill="#000" textLength="109.46" lengthAdjust="spacingAndGlyphs">Commercial</text>
<line x1="137.3" y1="844.3" x2="176.3" y2="844.3" stroke="#2ca02c" stroke-width="3" stroke-linecap="square"/>
<text x="191.6" y="851.8" font-size="20.8" fill="#000" textLength="132.48" lengthAdjust="spacingAndGlyphs">Nonreportable</text>
<rect x="128.8" y="983.8" width="258.4" height="34" rx="4" fill="#fff" fill-opacity="0.8" stroke="#cccccc" stroke-width="2"/>
<line x1="137.3" y1="1000.6" x2="176.3" y2="1000.6" stroke="#1f77b4" stroke-width="3" stroke-linecap="square"/>
<text x="191.68" y="1009.2" font-size="20.8" fill="#000" textLength="187.68" lengthAdjust="spacingAndGlyphs">Open Interest (COT)</text>
<rect x="870.5" y="60.5" width="75.5" height="21" rx="3" fill="#fff" fill-opacity="0.7"/>
<text x="877.57" y="77.2" font-size="17.7" fill="#505050" textLength="65.69" lengthAdjust="spacingAndGlyphs">11655.00</text>
<rect x="136.8" y="323.5" width="63.5" height="20" rx="3" fill="#fff" fill-opacity="0.7"/>
<text x="140.76" y="340" font-size="17.7" fill="#505050" textLength="56.47" lengthAdjust="spacingAndGlyphs">1534.00</text>
<rect x="1641.5" y="189.4" width="65" height="18.1" rx="3" fill="#fff" fill-opacity="0.7"/>
<text x="1646.44" y="205" font-size="17.7" fill="#505050" textLength="57.07" lengthAdjust="spacingAndGlyphs">5953.00</text>
<rect x="905" y="418.9" width="20" height="21.6" rx="3" fill="#fff" fill-opacity="0.7"/>
<text x="905.94" y="437.1" font-size="17.7" fill="#2a7ab8" textLength="16.94" lengthAdjust="spacingAndGlyphs">20</text>
<rect x="1596.6" y="580.5" width="22" height="19.5" rx="3" fill="#fff" fill-opacity="0.7"/>
<text x="1600.24" y="596.5" font-size="17.7" fill="#2a7ab8" textLength="14.81" lengthAdjust="spacingAndGlyphs">-6</text>
<rect x="1641.5" y="517.8" width="17.5" height="19.7" rx="3" fill="#fff" fill-opacity="0.7"/>
<text x="1646.8" y="533.8" font-size="17.7" fill="#2a7ab8" textLength="9.12" lengthAdjust="spacingAndGlyphs">0</text>
<rect x="802.5" y="733.5" width="66.5" height="20" rx="3" fill="#fff" fill-opacity="0.7"/>
<text x="805.03" y="750" font-size="17.7" fill="#2a7ab8" textLength="60.85" lengthAdjust="spacingAndGlyphs">100/100</text>
<rect x="1567.5" y="892" width="49.5" height="20" rx="3" fill="#fff" fill-opacity="0.7"/>
<text x="1570.77" y="908.4" font-size="17.7" fill="#2a7ab8" textLength="43.22" lengthAdjust="spacingAndGlyphs">0/100</text>
<rect x="1641.5" y="830.6" width="59.5" height="17.7" rx="3" fill="#fff" fill-opacity="0.7"/>
<text x="1646.77" y="845.4" font-size="17.7" fill="#2a7ab8" textLength="51.23" lengthAdjust="spacingAndGlyphs">22/100</text>
<rect x="789" y="951" width="21" height="21.5" rx="3" fill="#fff" fill-opacity="0.7"/>
<text x="791" y="966.6" font-size="17.7" fill="#505050" textLength="16.65" lengthAdjust="spacingAndGlyphs">77</text>
<rect x="384" y="1101.5" width="22.5" height="19.5" rx="3" fill="#fff" fill-opacity="0.7"/>
<text x="387.57" y="1117.6" font-size="17.7" fill="#505050" textLength="16.24" lengthAdjust="spacingAndGlyphs">47</text>
<rect x="1641.5" y="984.4" width="26.5" height="19" rx="3" fill="#fff" fill-opacity="0.7"/>
<text x="1647.94" y="999.8" font-size="17.7" fill="#505050" textLength="17.15" lengthAdjust="spacingAndGlyphs">68</text>
<text x="651.25" y="43.1" font-family="IPAGothic, sans-serif" font-size="23.0" fill="#000" textLength="117.88" lengthAdjust="spacingAndGlyphs">ココア先物</text>
<text x="776.11" y="41.9" font-size="23.6" fill="#000" textLength="49.43" lengthAdjust="spacingAndGlyphs">(CC)</text>
<text x="833.7" y="41.9" font-family="Liberation Sans, sans-serif" font-size="23.6" fill="#000" textLength="23.92" lengthAdjust="spacingAndGlyphs">—</text>
<text x="866.03" y="41.9" font-size="23.6" fill="#000" textLength="245.23" lengthAdjust="spacingAndGlyphs">Weekly Price (Candle)</text>
<text x="545.15" y="408" font-family="IPAGothic, sans-serif" font-size="23.0" fill="#000" textLength="118.3" lengthAdjust="spacingAndGlyphs">ココア先物</text>
<text x="670.3" y="406.8" font-size="23.6" fill="#000" textLength="49.64" lengthAdjust="spacingAndGlyphs">(CC)</text>
<text x="728" y="406.8" font-family="Liberation Sans, sans-serif" font-size="23.6" fill="#000" textLength="24.02" lengthAdjust="spacingAndGlyphs">—</text>
<text x="758.37" y="406.8" font-size="23.6" fill="#000" textLength="457.98" lengthAdjust="spacingAndGlyphs">Net Positions (FO+Options, Legacy, ALL)</text>
<text x="47.69" y="77.9" font-size="20.5" fill="#000" textLength="54.9" lengthAdjust="spacingAndGlyphs">12500</text>
<text x="47.69" y="134.2" font-size="20.5" fill="#000" textLength="54.9" lengthAdjust="spacingAndGlyphs">10000</text>
<text x="60.33" y="190.5" font-size="20.5" fill="#000" textLength="42.25" lengthAdjust="spacingAndGlyphs">7500</text>
<text x="59.98" y="246.8" font-size="20.5" fill="#000" textLength="42.62" lengthAdjust="spacingAndGlyphs">5000</text>
<text x="60.3" y="303.1" font-size="20.5" fill="#000" textLength="42.3" lengthAdjust="spacingAndGlyphs">2500</text>
<text x="81.81" y="456.4" font-size="20.5" fill="#000" textLength="20.81" lengthAdjust="spacingAndGlyphs">20</text>
<text x="79.82" y="504.95" font-size="20.5" fill="#000" textLength="22.94" lengthAdjust="spacingAndGlyphs">10</text>
<text x="91.92" y="553.5" font-size="20.5" fill="#000" textLength="10.81" lengthAdjust="spacingAndGlyphs">0</text>
<text x="73.25" y="602.05" font-size="20.5" fill="#000" textLength="29.53" lengthAdjust="spacingAndGlyphs">-10</text>
<text x="73.25" y="650.6" font-size="20.5" fill="#000" textLength="29.53" lengthAdjust="spacingAndGlyphs">-20</text>
<text x="69.43" y="769.6" font-size="20.5" fill="#000" textLength="33.39" lengthAdjust="spacingAndGlyphs">100</text>
<text x="81.64" y="830.75" font-size="20.5" fill="#000" textLength="21.14" lengthAdjust="spacingAndGlyphs">50</text>
<text x="91.92" y="891.9" font-size="20.5" fill="#000" textLength="10.81" lengthAdjust="spacingAndGlyphs">0</text>
<text x="81.85" y="1013.7" font-size="20.5" fill="#000" textLength="20.76" lengthAdjust="spacingAndGlyphs">70</text>
<text x="81.76" y="1052.2" font-size="20.5" fill="#000" textLength="20.93" lengthAdjust="spacingAndGlyphs">60</text>
<text x="81.64" y="1090.7" font-size="20.5" fill="#000" textLength="21.14" lengthAdjust="spacingAndGlyphs">50</text>
<text x="115.85" y="362.9" font-size="20.5" fill="#000" textLength="43.5" lengthAdjust="spacingAndGlyphs">2024</text>
<text x="871.81" y="362.9" font-size="20.5" fill="#000" textLength="43.42" lengthAdjust="spacingAndGlyphs">2025</text>
<text x="115.83" y="1129.9" font-size="20.5" fill="#000" textLength="43.71" lengthAdjust="spacingAndGlyphs">2024</text>
<text x="871.81" y="1129.9" font-size="20.5" fill="#000" textLength="43.42" lengthAdjust="spacingAndGlyphs">2025</text>
<text x="38" y="219.89" font-size="20.8" fill="#000" textLength="45.92" lengthAdjust="spacingAndGlyphs" transform="rotate(-90 38 219.89)">Price</text>
<text x="63" y="618.9" font-size="20.8" fill="#000" textLength="138.99" lengthAdjust="spacingAndGlyphs" transform="rotate(-90 63 618.9)">Net (contracts)</text>
<text x="59.9" y="910.91" font-size="20.8" fill="#000" textLength="170.74" lengthAdjust="spacingAndGlyphs" transform="rotate(-90 59.9 910.91)">COT Index (0–100)</text>
<text x="70.6" y="1154.97" font-size="20.8" fill="#000" textLength="232.96" lengthAdjust="spacingAndGlyphs" transform="rotate(-90 70.6 1154.97)">Open Interest (contracts)</text>
<text x="858.55" y="1157" font-size="20.8" fill="#000" textLength="43.56" lengthAdjust="spacingAndGlyphs">Date</text>
<text x="1030.28" y="1164.9" font-size="18" fill="#555555" textLength="693.26" lengthAdjust="spacingAndGlyphs">注: Net/OI は枚数<tspan font-family="IPAGothic">（</tspan>contracts<tspan font-family="IPAGothic">）</tspan><tspan font-family="IPAGothic">。</tspan>k=1,000枚<tspan font-family="IPAGothic">。</tspan>COT Index<tspan font-family="IPAGothic">・</tspan>WVI<tspan font-family="IPAGothic">・</tspan>Stoch は 0–100 の位置指数<tspan font-family="IPAGothic">。</tspan></text>
</svg>
</body></html>
